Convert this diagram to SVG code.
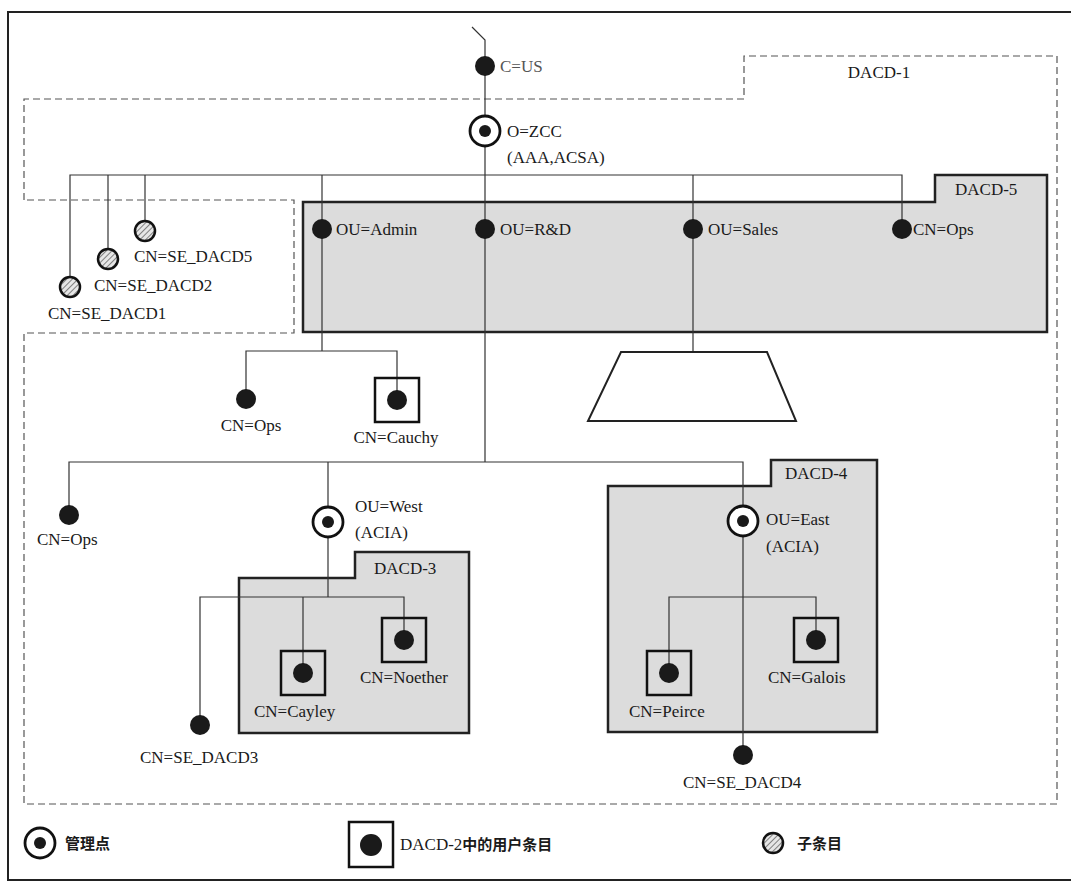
<svg xmlns="http://www.w3.org/2000/svg" width="1072" height="883" viewBox="0 0 1072 883">
<defs>
<pattern id="hatch" patternUnits="userSpaceOnUse" width="4" height="4" patternTransform="rotate(45)">
<rect width="4" height="4" fill="#e6e6e6"/>
<line x1="0" y1="0" x2="0" y2="4" stroke="#666" stroke-width="1.6"/>
</pattern>
<style>
text{font-family:"Liberation Serif","Noto Sans CJK SC",serif;font-size:17px;fill:#1a1a1a}
.cjk{font-family:"Noto Sans CJK SC","Liberation Serif",sans-serif;font-size:15px;font-weight:bold}
.ln{stroke:#333;stroke-width:1.2;fill:none}
.dash{stroke:#555;stroke-width:1.2;fill:none;stroke-dasharray:7 4}
.box{stroke:#222;stroke-width:2.5;fill:#dcdcdc}
.dot{fill:#1a1a1a}
.adm{fill:#fff;stroke:#111;stroke-width:2.8}
.sq{fill:none;stroke:#111;stroke-width:2.5}
.sub{fill:url(#hatch);stroke:#111;stroke-width:2.5}
</style>
</defs>
<rect width="1072" height="883" fill="#fff"/>
<path d="M1071,12 H8 V880 H1071" fill="none" stroke="#222" stroke-width="2"/>

<g id="regions">
<path id="DACD-1" class="dash" d="M24,200 V99 H744 V56 H1057 V804 H24 V333 H294 V200 Z"/>
<text x="879" y="78" text-anchor="middle">DACD-1</text>
<path id="DACD-5" class="box" d="M303,202 H935 V175 H1047 V332 H303 Z"/>
<text x="955" y="195">DACD-5</text>
<path id="DACD-3" class="box" d="M239,578 H355 V552 H469 V733 H239 Z"/>
<text x="374" y="574">DACD-3</text>
<path id="DACD-4" class="box" d="M608,486 H771 V460 H877 V732 H608 Z"/>
<text x="785" y="479">DACD-4</text>
</g>

<g id="connectors">
<path class="ln" d="M472,27 L485,40 V462"/>
<path class="ln" d="M70,277 V175 H902 V229"/>
<path class="ln" d="M108,175 V249"/>
<path class="ln" d="M145,175 V221"/>
<path class="ln" d="M322,175 V351"/>
<path class="ln" d="M693,175 V352"/>
<path class="ln" d="M246,399 V351 H397 V400"/>
<path class="ln" d="M69,515 V462 H743 V755"/>
<path class="ln" d="M328,462 V597"/>
<path class="ln" d="M200,725 V597 H404 V640"/>
<path class="ln" d="M303,597 V673"/>
<path class="ln" d="M669,673 V597 H816 V640"/>
</g>

<g id="C-US"><circle cx="485" cy="66" r="10" class="dot"/><text x="500" y="72" style="fill:#555">C=US</text></g>
<g id="O-ZCC"><circle cx="485" cy="131" r="15" class="adm"/><circle cx="485" cy="131" r="6" class="dot"/><text x="507" y="137">O=ZCC</text><text x="507" y="163">(AAA,ACSA)</text></g>

<g id="SE-DACD5"><circle cx="145" cy="231" r="10" class="sub"/><text x="134" y="262">CN=SE_DACD5</text></g>
<g id="SE-DACD2"><circle cx="108" cy="259" r="10" class="sub"/><text x="94" y="291">CN=SE_DACD2</text></g>
<g id="SE-DACD1"><circle cx="70" cy="287" r="10" class="sub"/><text x="48" y="319">CN=SE_DACD1</text></g>

<g id="OU-Admin"><circle cx="322" cy="229" r="10" class="dot"/><text x="336" y="235">OU=Admin</text></g>
<g id="OU-RD"><circle cx="485" cy="229" r="10" class="dot"/><text x="500" y="235">OU=R&amp;D</text></g>
<g id="OU-Sales"><circle cx="693" cy="229" r="10" class="dot"/><text x="708" y="235">OU=Sales</text></g>
<g id="CN-Ops-top"><circle cx="902" cy="229" r="10" class="dot"/><text x="913" y="235">CN=Ops</text></g>

<g id="CN-Ops-admin"><circle cx="246" cy="399" r="10" class="dot"/><text x="251" y="431" text-anchor="middle">CN=Ops</text></g>
<g id="CN-Cauchy"><rect x="375" y="378" width="44" height="44" class="sq"/><circle cx="397" cy="400" r="10" class="dot"/><text x="396" y="443" text-anchor="middle">CN=Cauchy</text></g>
<g id="sales-store"><path d="M621,352 H767 L796,421 H588 Z" fill="none" stroke="#222" stroke-width="2"/></g>

<g id="CN-Ops-left"><circle cx="69" cy="515" r="10" class="dot"/><text x="37" y="545">CN=Ops</text></g>
<g id="OU-West"><circle cx="328" cy="522" r="15" class="adm"/><circle cx="328" cy="522" r="6" class="dot"/><text x="355" y="512">OU=West</text><text x="355" y="538">(ACIA)</text></g>
<g id="CN-Noether"><rect x="382" y="618" width="44" height="44" class="sq"/><circle cx="404" cy="640" r="10" class="dot"/><text x="360" y="683">CN=Noether</text></g>
<g id="CN-Cayley"><rect x="281" y="651" width="44" height="44" class="sq"/><circle cx="303" cy="673" r="10" class="dot"/><text x="254" y="717">CN=Cayley</text></g>
<g id="SE-DACD3"><circle cx="200" cy="725" r="10" class="dot"/><text x="140" y="763">CN=SE_DACD3</text></g>

<g id="OU-East"><circle cx="743" cy="521" r="15" class="adm"/><circle cx="743" cy="521" r="6" class="dot"/><text x="766" y="525">OU=East</text><text x="766" y="552">(ACIA)</text></g>
<g id="CN-Galois"><rect x="794" y="618" width="44" height="44" class="sq"/><circle cx="816" cy="640" r="10" class="dot"/><text x="768" y="683">CN=Galois</text></g>
<g id="CN-Peirce"><rect x="647" y="651" width="44" height="44" class="sq"/><circle cx="669" cy="673" r="10" class="dot"/><text x="629" y="717">CN=Peirce</text></g>
<g id="SE-DACD4"><circle cx="743" cy="755" r="10" class="dot"/><text x="683" y="788">CN=SE_DACD4</text></g>

<g id="legend">
<circle cx="40" cy="843" r="15" class="adm"/><circle cx="40" cy="843" r="6" class="dot"/>
<text x="65" y="849" class="cjk">管理点</text>
<rect x="349" y="822" width="44" height="45" class="sq"/><circle cx="371" cy="845" r="11" class="dot"/>
<text x="400" y="850">DACD-2<tspan class="cjk">中的用户条目</tspan></text>
<circle cx="773" cy="843" r="10" class="sub"/>
<text x="797" y="849" class="cjk">子条目</text>
</g>
</svg>
